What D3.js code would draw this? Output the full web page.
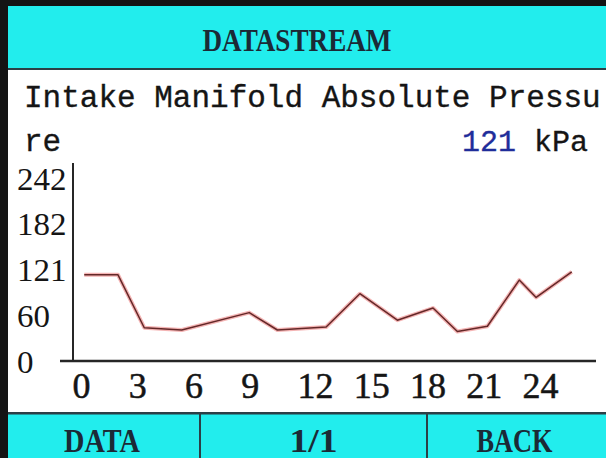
<!DOCTYPE html>
<html>
<head>
<script src="https://d3js.org/d3.v7.min.js"></script>
<style>
body {margin: 0; background: white;}
svg {display: block;}
.bar text {font-family: "Liberation Serif", serif; font-weight: bold; fill: #1b2a36;}
.mono {font-family: "Liberation Mono", monospace; fill: #151515; stroke: #151515; stroke-width: 0.35;}
.tick text {font-family: "Liberation Serif", serif; fill: #151515;}
</style>
</head>
<body>
<svg width="606" height="458"></svg>
<script>
// sampled pressure trace (time in s, value in kPa)
var times = [0.6, 2.4, 3.8, 5.8, 9.4, 10.9, 13.5, 15.3, 17.3, 19.2, 20.5, 22.1, 23.8, 24.7, 26.6];
var values = [114, 114, 44, 41, 64, 41, 45, 89, 54, 70, 39, 46, 107, 84, 118];
var current = 121;
var xTicks = [0, 3, 6, 9, 12, 15, 18, 21, 24];
var yTicks = [0, 60, 121, 182, 242];
var buttons = ["DATA", "1/1", "BACK"];

var svg = d3.select("svg");
var W = 606, H = 458;

svg.append("rect").attr("width", W).attr("height", H).attr("fill", "white");

// header
var head = svg.append("g").attr("class", "bar");
head.append("rect").attr("x", 0).attr("y", 0).attr("width", W).attr("height", 70).attr("fill", "#22eded");
head.append("rect").attr("x", 0).attr("y", 0).attr("width", W).attr("height", 6).attr("fill", "#141414");
head.append("rect").attr("x", 0).attr("y", 68).attr("width", W).attr("height", 2).attr("fill", "#2b3f46");
head.append("text").attr("x", 297).attr("y", 51).attr("text-anchor", "middle")
  .attr("font-size", 31).attr("textLength", 189).attr("lengthAdjust", "spacingAndGlyphs")
  .text("DATASTREAM");

// titles
svg.append("text").attr("class", "mono").attr("x", 24).attr("y", 107)
  .attr("font-size", 31).text("Intake Manifold Absolute Pressu");
svg.append("text").attr("class", "mono").attr("x", 24).attr("y", 151)
  .attr("font-size", 31).text("re");
var rd = svg.append("text").attr("class", "mono").attr("x", 588).attr("y", 151)
  .attr("text-anchor", "end").attr("font-size", 30);
rd.append("tspan").attr("fill", "#1f2d9a").attr("stroke", "#1f2d9a").text(current);
rd.append("tspan").text(" kPa");

// scales
var x = d3.scaleLinear().domain([0, 24]).range([73, 523]);
var y = d3.scaleLinear().domain([0, 242]).range([361, 178]);

// axes
var xa = svg.append("g").attr("transform", "translate(0,361)")
  .call(d3.axisBottom(x).tickValues(xTicks).tickSize(0));
xa.select(".domain").remove();
xa.selectAll("text").attr("text-anchor", "start").attr("x", -1).attr("y", 37).attr("dy", null)
  .attr("font-size", 36).attr("fill", "#151515").attr("stroke", "#151515").attr("stroke-width", 0.5);

var ya = svg.append("g").attr("transform", "translate(73,0)")
  .call(d3.axisLeft(y).tickValues(yTicks).tickSize(0));
ya.select(".domain").remove();
ya.selectAll("text").attr("text-anchor", "start").attr("x", -56).attr("dy", null).attr("y", 11)
  .attr("font-size", 32)
  .attr("textLength", function(d) { return String(d).length * 16.5; })
  .attr("lengthAdjust", "spacingAndGlyphs");

svg.append("line").attr("x1", 60).attr("x2", 596).attr("y1", 361).attr("y2", 361)
  .attr("stroke", "#262626").attr("stroke-width", 2.5);
svg.append("line").attr("x1", 73).attr("x2", 73).attr("y1", 163).attr("y2", 361)
  .attr("stroke", "#262626").attr("stroke-width", 2);

// trace
var pts = times.map(function(t, i) { return [t, values[i]]; });
var line = d3.line().x(function(d) { return x(d[0]); }).y(function(d) { return y(d[1]); });
svg.append("path").datum(pts).attr("d", line).attr("fill", "none")
  .attr("stroke", "#f4b4b4").attr("stroke-width", 4).attr("stroke-linejoin", "round");
svg.append("path").datum(pts).attr("d", line).attr("fill", "none")
  .attr("stroke", "#642828").attr("stroke-width", 1.5).attr("stroke-linejoin", "round");

// footer
var foot = svg.append("g").attr("class", "bar");
foot.append("rect").attr("x", 0).attr("y", 413).attr("width", W).attr("height", 45).attr("fill", "#22eded");
foot.append("rect").attr("x", 0).attr("y", 412).attr("width", W).attr("height", 2.5).attr("fill", "#2b3f46");
var bx = [8, 200, 427, W];
foot.selectAll("line.div").data([200, 427]).enter().append("line")
  .attr("x1", function(d) { return d; }).attr("x2", function(d) { return d; })
  .attr("y1", 413).attr("y2", H).attr("stroke", "#2b3f46").attr("stroke-width", 2);
foot.selectAll("text").data(buttons).enter().append("text")
  .attr("x", function(d, i) { return (bx[i] + bx[i + 1]) / 2 + (i == 1 ? 0 : -2); })
  .attr("y", 452).attr("text-anchor", "middle").attr("font-size", 33)
  .attr("textLength", function(d) { return d == "1/1" ? 48 : d.length * 19; })
  .attr("lengthAdjust", "spacingAndGlyphs")
  .text(function(d) { return d; });

// left frame edge
svg.append("rect").attr("x", 0).attr("y", 0).attr("width", 8).attr("height", H).attr("fill", "#141414");
</script>
</body>
</html>
